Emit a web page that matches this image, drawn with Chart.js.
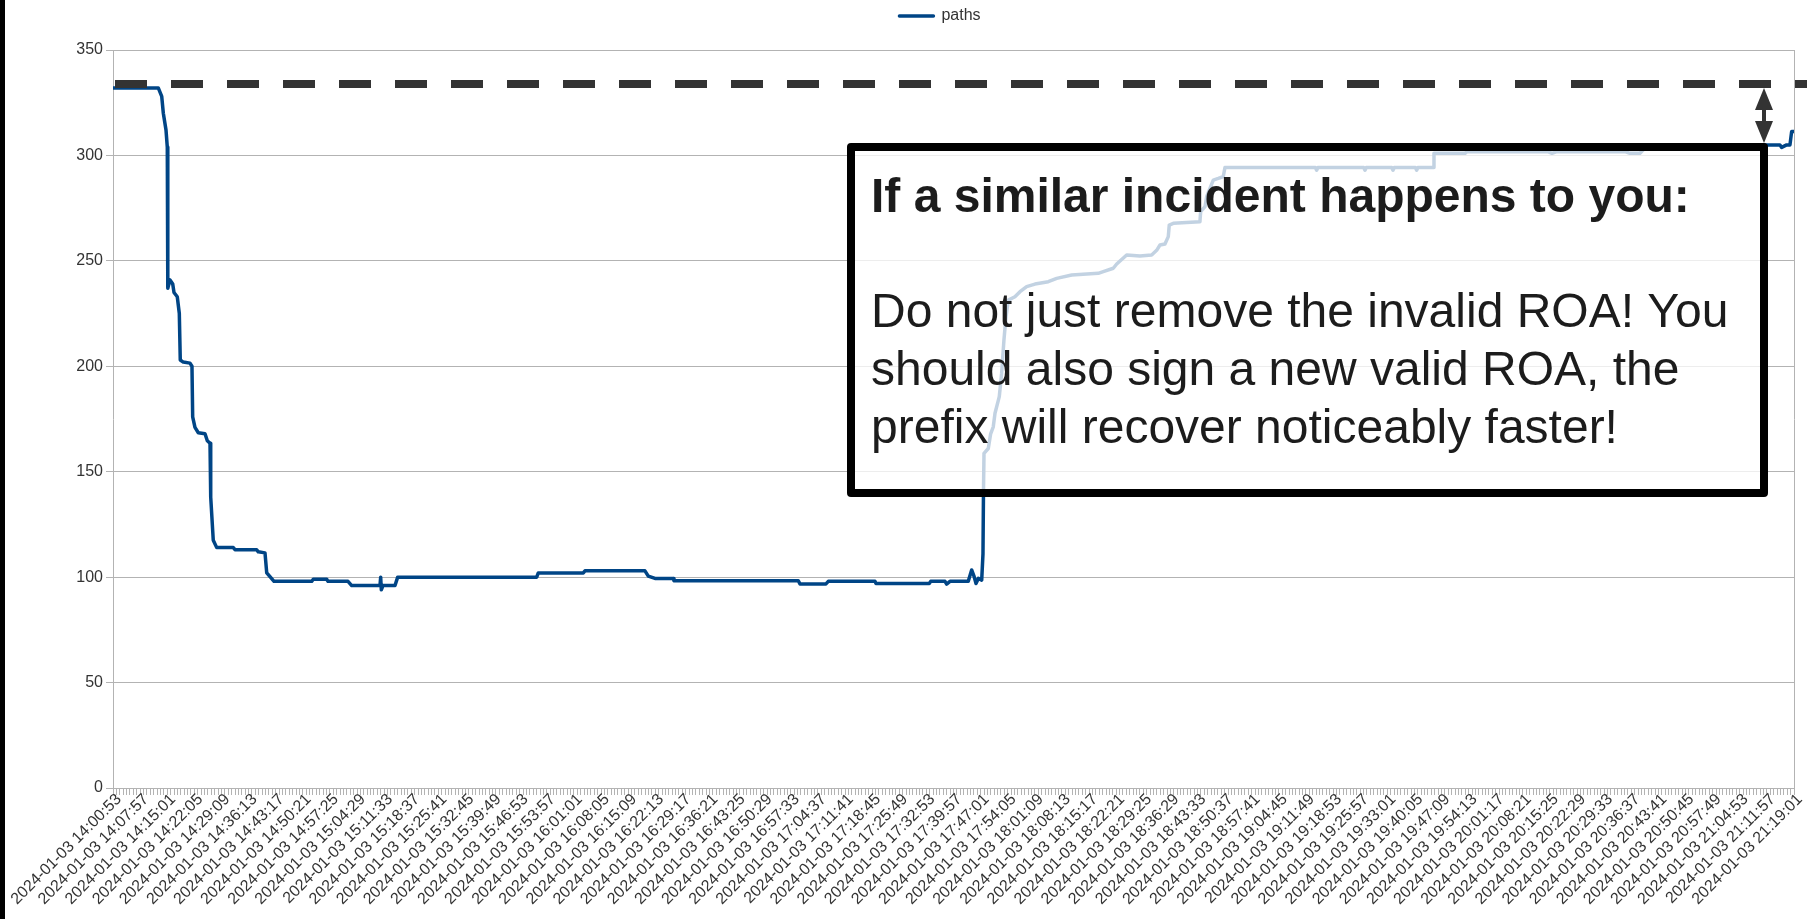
<!DOCTYPE html>
<html>
<head>
<meta charset="utf-8">
<script src="https://cdn.jsdelivr.net/npm/chart.js@4"></script>
<style>
html,body{margin:0;padding:0;background:#fff;overflow:hidden}
#wrap{position:relative;width:1807px;height:919px}
canvas{display:block}
</style>
</head>
<body>
<div id="wrap"><canvas id="c" width="1807" height="919"></canvas></div>
<script>
// ---------- data ----------
const seriesName = 'paths';
const dateLabel = '2024-01-03';
const tickTimes = [
  '14:00:53','14:07:57','14:15:01','14:22:05','14:29:09','14:36:13','14:43:17','14:50:21','14:57:25',
  '15:04:29','15:11:33','15:18:37','15:25:41','15:32:45','15:39:49','15:46:53','15:53:57',
  '16:01:01','16:08:05','16:15:09','16:22:13','16:29:17','16:36:21','16:43:25','16:50:29','16:57:33',
  '17:04:37','17:11:41','17:18:45','17:25:49','17:32:53','17:39:57','17:47:01','17:54:05',
  '18:01:09','18:08:13','18:15:17','18:22:21','18:29:25','18:36:29','18:43:33','18:50:37','18:57:41',
  '19:04:45','19:11:49','19:18:53','19:25:57','19:33:01','19:40:05','19:47:09','19:54:13',
  '20:01:17','20:08:21','20:15:25','20:22:29','20:29:33','20:36:37','20:43:41','20:50:45','20:57:49',
  '21:04:53','21:11:57','21:19:01'
];
const minorTicksPerLabel = 8;
const pathTimes = [
  '14:00:53','14:12:41','14:13:35','14:14:00','14:14:42','14:15:02','14:15:10','14:15:44','14:16:27','14:16:47',
  '14:17:38','14:18:10','14:18:25','14:19:12','14:20:57','14:21:28','14:21:39','14:22:15','14:23:07','14:24:52',
  '14:25:28','14:26:10','14:26:21','14:27:01','14:27:55','14:32:14','14:32:41','14:38:20','14:38:45','14:40:30',
  '14:40:57','14:41:48','14:42:51','14:52:40','14:53:05','14:56:35','14:56:55','15:02:08','15:03:06','15:10:28',
  '15:10:39','15:10:49','15:11:15','15:14:23','15:15:05','15:51:19','15:51:44','16:03:28','16:03:54','16:19:32',
  '16:20:24','16:22:09','16:26:55','16:27:06','16:59:30','16:59:56','17:06:43','17:07:19','17:19:29','17:19:45',
  '17:33:38','17:34:00','17:37:44','17:38:10','17:39:02','17:43:48','17:44:41','17:45:17','17:45:49','17:46:25',
  '17:47:18','17:47:38','17:47:46','17:47:54','17:49:01','17:49:38','17:50:19','17:50:46','17:51:53','17:52:30',
  '17:53:06','17:53:38','17:54:14','17:55:58','17:57:17','17:59:01','18:01:11','18:04:39','18:06:51','18:10:45',
  '18:17:41','18:18:59','18:21:36','18:22:29','18:25:05','18:28:33','18:31:36','18:32:54','18:33:46','18:35:04',
  '18:35:56','18:36:11','18:37:14','18:44:11','18:44:22','18:45:30','18:45:56','18:47:39','18:48:58','18:50:16',
  '18:50:42','19:14:16','19:14:36','19:14:56','19:26:52','19:27:12','19:27:32','19:34:10','19:34:30','19:34:50',
  '19:40:20','19:40:40','19:41:00','19:45:00','19:45:11','19:53:16','19:53:47','20:14:53','20:15:56','20:17:14',
  '20:34:58','20:36:16','20:38:52','20:40:10','20:59:43','21:00:30','21:15:21','21:15:48','21:17:06','21:17:58',
  '21:18:24','21:19:01'
];
const pathValues = [
  332,332,328,320,312,304,237,241,239,235,
  233,225,203,202,201.5,200,176,171,168.5,168,
  164.7,163.5,138,117.5,114,114,113,113,112,111.5,
  102,100.2,98,98,99,99,98,98,96,96,
  100,94,96,96,100,100,102,102,103,103,
  100.5,99.4,99.4,98.3,98.3,96.8,96.8,98,98,97,
  97,98,98,96.7,98,98,103.4,100.5,97,99.4,
  98.6,111,141,158.7,161,168,171.3,177.7,185.6,196.7,
  212.5,223.5,231.4,233,235.4,237.8,239,240.1,241.7,243.3,
  244.1,244.9,246.5,248.5,252.8,252.3,252.8,255,257.5,258,
  261.5,267,267.8,268.6,273.3,275.7,280.4,288.3,289.1,290,
  294.3,294.3,293,294.3,294.3,293,294.3,294.3,293,294.3,
  294.3,293,294.3,294.3,301,301,301.8,301.8,301,301.8,
  301.8,301,301,303.5,303.5,305,305,303.8,305,305,
  311.3,311.3
];
const referenceLevel = 334;
const yTicks = [0, 50, 100, 150, 200, 250, 300, 350];
const noteTitle = 'If a similar incident happens to you:';
const noteLines = ['Do not just remove the invalid ROA! You', 'should also sign a new valid ROA, the', 'prefix will recover noticeably faster!'];

// ---------- helpers ----------
function toSec(t){ const p = t.split(':').map(Number); return p[0]*3600 + p[1]*60 + p[2]; }
const t0 = toSec(tickTimes[0]);
const span = toSec(tickTimes[tickTimes.length-1]) - t0;
const labelStep = (toSec(tickTimes[1]) - t0);
const points = pathTimes.map((t,i) => ({x: toSec(t) - t0, y: pathValues[i]}));

const FONT = 'Liberation Sans';
const axisColor = '#b3b3b3';
const textColor = '#333333';

const legendTweak = {
  id: 'legendTweak',
  beforeUpdate(chart){
    const lg = chart.legend;
    if (lg && !lg._patched){
      const f = lg.fit;
      lg.fit = function(){ f.call(this); this.height += 16; };
      const d = lg.draw;
      lg.draw = function(){ const c = this.ctx; c.save(); c.translate(8, 0); d.call(this); c.restore(); };
      lg._patched = true;
    }
  }
};

const overlay = {
  id: 'overlay',
  afterDatasetsDraw(chart){
    const ctx = chart.ctx;
    ctx.save();
    const bx = 847, by = 143, bw = 921, bh = 354, bw8 = 8;
    ctx.fillStyle = 'rgba(255,255,255,0.76)';
    ctx.fillRect(bx + bw8, by + bw8, bw - 2*bw8, bh - 2*bw8);
    ctx.lineWidth = bw8;
    ctx.strokeStyle = '#000';
    ctx.lineJoin = 'round';
    ctx.strokeRect(bx + bw8/2, by + bw8/2, bw - bw8, bh - bw8);
    ctx.fillStyle = '#1c1c1c';
    ctx.textBaseline = 'alphabetic';
    ctx.textAlign = 'left';
    ctx.font = 'bold 48px "' + FONT + '"';
    ctx.fillText(noteTitle, 871, 212);
    ctx.font = '48px "' + FONT + '"';
    noteLines.forEach((l, i) => ctx.fillText(l, 871, 327 + i*58));
    ctx.restore();
  },
  afterDraw(chart){
    const ctx = chart.ctx;
    const ys = chart.scales.y;
    const area = chart.chartArea;
    ctx.save();
    const yr = Math.round(ys.getPixelForValue(referenceLevel));
    ctx.strokeStyle = '#333333';
    ctx.lineWidth = 8;
    ctx.setLineDash([32, 24]);
    ctx.beginPath();
    ctx.moveTo(area.left + 2, yr);
    ctx.lineTo(chart.width, yr);
    ctx.stroke();
    ctx.setLineDash([]);
    const ax = 1764, top = yr + 4, bot = 143, hh = 22, hw = 9;
    ctx.fillStyle = '#333333';
    ctx.beginPath();
    ctx.moveTo(ax, top); ctx.lineTo(ax + hw, top + hh); ctx.lineTo(ax - hw, top + hh); ctx.closePath(); ctx.fill();
    ctx.beginPath();
    ctx.moveTo(ax, bot); ctx.lineTo(ax + hw, bot - hh); ctx.lineTo(ax - hw, bot - hh); ctx.closePath(); ctx.fill();
    ctx.fillRect(ax - 2, top + hh - 1, 4, (bot - hh) - (top + hh) + 2);
    ctx.fillStyle = '#000';
    ctx.fillRect(0, 0, 5, chart.height);
    ctx.restore();
  }
};

new Chart(document.getElementById('c'), {
  type: 'line',
  data: {
    datasets: [{
      label: seriesName,
      data: points,
      borderColor: '#004586',
      backgroundColor: '#004586',
      borderWidth: 3.5,
      pointRadius: 0,
      tension: 0,
      fill: false,
      borderJoinStyle: 'round',
      borderCapStyle: 'round'
    }]
  },
  options: {
    responsive: false,
    animation: false,
    layout: { padding: { left: 70, right: 13, top: 0, bottom: 0 } },
    plugins: {
      legend: {
        display: true,
        position: 'top',
        labels: { boxWidth: 34, boxHeight: 0, padding: 8, color: textColor, font: { family: FONT, size: 16 } }
      },
      tooltip: { enabled: false }
    },
    scales: {
      x: {
        type: 'linear',
        min: 0,
        max: span,
        ticks: {
          stepSize: labelStep / minorTicksPerLabel,
          autoSkip: false,
          minRotation: 45,
          maxRotation: 45,
          padding: -5,
          labelOffset: 6,
          color: textColor,
          font: { family: FONT, size: 16 },
          callback: (v, i) => (i % minorTicksPerLabel === 0 && tickTimes[i / minorTicksPerLabel]) ? dateLabel + ' ' + tickTimes[i / minorTicksPerLabel] : ''
        },
        grid: { drawOnChartArea: false, drawTicks: true, tickLength: 7, color: axisColor },
        border: { color: axisColor },
        afterFit(s){ s.height = 131; s.paddingLeft = 0; s.paddingRight = 0; }
      },
      y: {
        min: 0,
        max: 350,
        afterBuildTicks(s){ s.ticks = yTicks.map(v => ({value: v})); },
        ticks: { padding: 3, color: textColor, font: { family: FONT, size: 16 } },
        grid: { color: axisColor, tickLength: 7 },
        border: { color: axisColor },
        afterFit(s){ s.width = 43; }
      },
      y2: {
        position: 'right',
        min: 0,
        max: 350,
        ticks: { display: false },
        grid: { display: false, drawTicks: false },
        border: { display: true, color: axisColor },
        afterFit(s){ s.width = 0; }
      }
    }
  },
  plugins: [legendTweak, overlay]
});
</script>
</body>
</html>
